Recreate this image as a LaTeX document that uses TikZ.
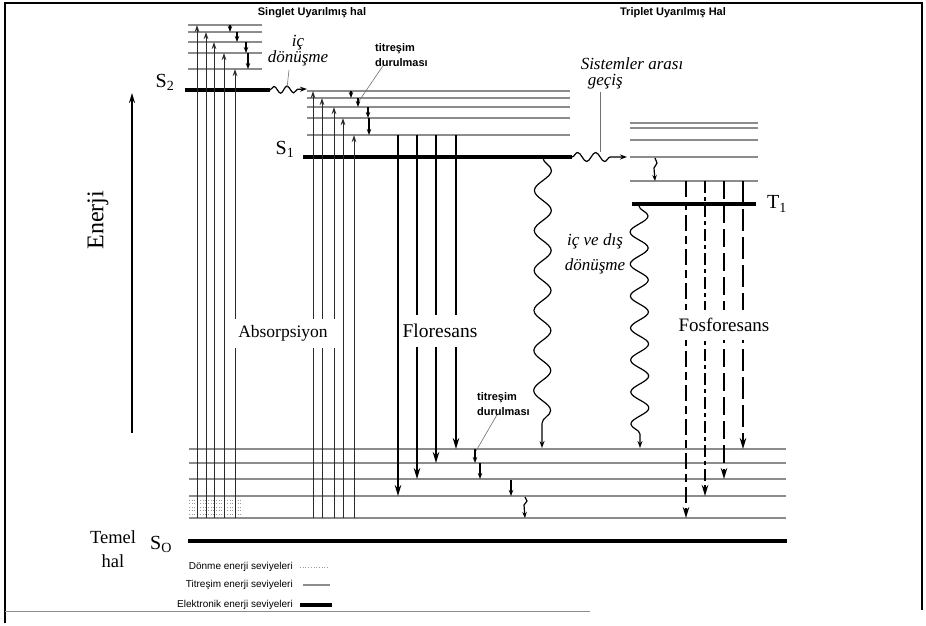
\documentclass[tikz,border=0pt]{standalone}
\usepackage{fontspec}
\setmainfont{Liberation Serif}
\setsansfont{Liberation Sans}
\usetikzlibrary{arrows.meta,decorations.pathmorphing}
\definecolor{LevelGrey}{HTML}{8C8C8C}
\definecolor{LineDark}{HTML}{2A2A2A}
\definecolor{LeadGrey}{HTML}{707070}
\definecolor{DotGrey}{HTML}{9A9A9A}

\begin{document}
\begin{tikzpicture}[x=1pt,y=-1pt,
  elec/.style={line width=3.6pt,draw=black},
  vib/.style={line width=1.1pt,draw=LevelGrey},
  rot/.style={line width=0.7pt,draw=DotGrey,dotted},
  absarr/.style={line width=1pt,draw=LineDark,-{Stealth[length=7pt,width=4.5pt]}},
  fluarr/.style={line width=2.5pt,-{Stealth[length=11pt,width=6.5pt]}},
  phosarr/.style={line width=2.2pt,-{Stealth[length=11pt,width=6.5pt]}},
  relax/.style={line width=1.2pt,-{Stealth[length=6pt,width=4.5pt]}},
  wavy/.style={line width=1.2pt,decorate,decoration={snake,#1},-{Stealth[length=7pt,width=5pt]}},
  lead/.style={line width=0.6pt,draw=LeadGrey},
  proc/.style={fill=white,inner sep=0pt},
  itl/.style={font=\fontsize{17}{16}\selectfont\itshape,align=center},
  small/.style={font=\fontsize{11}{15}\selectfont\sffamily\bfseries,align=left,anchor=west,inner sep=0pt},
  lvl/.style={font=\fontsize{20}{20}\selectfont},
  leg/.style={font=\fontsize{10}{10}\selectfont\sffamily,anchor=east,inner sep=0pt}
]
  \useasboundingbox (0,0) rectangle (926,626);
  % Frame
  \draw[line width=1.8pt] (5,623) -- (5,3) -- (922,3) -- (922,610);
  \draw[line width=0.8pt,draw=LevelGrey] (5,611) -- (590,611);

  % Titles
  \node[font=\fontsize{11}{11}\selectfont\sffamily\bfseries] (sgT) at (312,13) {Singlet Uyarılmış hal};
  \node[font=\fontsize{11}{11}\selectfont\sffamily\bfseries] (trT) at (673,13) {Triplet Uyarılmış Hal};

  % S0 levels
  \foreach \y in {449,463,479,496,518} \draw[vib] (189,\y) -- (786,\y);
  \foreach \y in {500,503.5,507,510.5,514} \draw[rot] (189,\y) -- (243,\y);
  \draw[elec] (188,541) -- (787,541);

  % S2 levels
  \foreach \y in {25,32,42,53,69} \draw[vib] (188,\y) -- (262,\y);
  \draw[elec] (185,90) -- (270,90) coordinate (s2R);

  % S1 levels
  \foreach \y in {91,98,107,118,135} \draw[vib] (307,\y) -- (570,\y);
  \draw[elec] (303,157) -- (572,157) coordinate (s1R);

  % T1 levels
  \foreach \y in {123,128,140,157,181} \draw[vib] (630,\y) -- (758,\y);
  \draw[elec] (632,204) -- (756,204);

  % Absorption
  \foreach \x/\y [count=\i] in {197/25,206/32,214/42,224/53,235/69,313/91,322/98,334/107,343/118,354/135}{
    \coordinate (ab\i) at (\x,518);
    \coordinate (abT\i) at (\x,\y);
    \draw[absarr] (ab\i) -- (abT\i);
  }

  % Fluorescence
  \foreach \x/\y [count=\i] in {398/496,417/479,436/463,456/449}{
    \coordinate (fl\i) at (\x,135);
    \coordinate (flT\i) at (\x,\y);
    \draw[fluarr] (fl\i) -- (flT\i);
  }

  % Phosphorescence
  \foreach \x/\y [count=\i] in {686/518,705/496,724/479,743/449}{
    \coordinate (ph\i) at (\x,181);
    \coordinate (phT\i) at (\x,\y);
  }
  \draw[phosarr,dash pattern=on 16pt off 5pt on 8pt off 5pt] (ph1) -- (phT1);
  \draw[phosarr,dash pattern=on 12pt off 4pt on 4pt off 4pt] (ph2) -- (phT2);
  \draw[phosarr,dash pattern=on 18pt off 6pt] (ph3) -- (phT3);
  \draw[phosarr,dash pattern=on 22pt off 6pt] (ph4) -- (phT4);

  % Vibrational relaxation
  \foreach \x/\a/\b in {230/25/32,237/32/42,246/42/53,248/53/69,
                        351/91/98,358/98/107,368/107/118,369/118/135,
                        475/449/463,480/463/479,511/480/496}{
    \draw[relax] (\x,\a) -- (\x,\b);
  }
  \coordinate (rl1) at (525,497);
  \coordinate (rlT1) at (525,518);
  \draw[relax] (rl1) -- ++(2,4) -- ++(-3,4) -- (rlT1);
  \coordinate (rl2) at (655,158);
  \coordinate (rlT2) at (655,181);
  \draw[relax] (rl2) -- ++(2,5) -- ++(-3,5) -- (rlT2);

  % Non-radiative transitions
  \coordinate (icT) at (307,89);
  \draw[wavy={amplitude=3.5pt,segment length=13pt,post length=7pt}] (s2R) -- (icT);
  \coordinate (iscT) at (627,157);
  \draw[wavy={amplitude=4.5pt,segment length=18pt,post length=8pt}] (s1R) -- (iscT);
  \coordinate (ic1) at (543,158);
  \coordinate (ic1T) at (542,448);
  \draw[wavy={amplitude=8.5pt,segment length=40pt,post length=7pt}] (ic1) -- (ic1T);
  \coordinate (ic2) at (639,206);
  \coordinate (ic2T) at (640,448);
  \draw[wavy={amplitude=9pt,segment length=32pt,post length=7pt}] (ic2) -- (ic2T);

  % Process labels
  \node[proc,minimum width=108pt,minimum height=29pt,font=\fontsize{17.5}{17.5}\selectfont] (absL) at (283,333) {Absorpsiyon};
  \node[proc,minimum width=76pt,minimum height=32pt,font=\fontsize{19.5}{19.5}\selectfont] (fluL) at (440,331) {Floresans};
  \node[proc,minimum width=98pt,minimum height=30pt,font=\fontsize{19}{19}\selectfont] (phoL) at (724,325) {Fosforesans};

  \node[itl] (icL) at (298,51) {iç\\dönüşme};
  \node[itl,align=left] (iscL) at (632,73) {Sistemler arası\\\hspace*{7pt}geçiş};
  \node[itl,font=\fontsize{17}{25}\selectfont\itshape] (icdL) at (595,254) {iç ve dış\\dönüşme};
  \node[small] (tdL1) at (375,55) {titreşim\\durulması};
  \node[small] (tdL2) at (477,404) {titreşim\\durulması};

  % Leaders
  \coordinate (icP) at (287,88);
  \draw[lead] ([xshift=-9pt]icL.south) -- (icP);
  \coordinate (tdP1) at (359,101);
  \draw[lead] ([xshift=8pt,yshift=1pt]tdL1.south west) -- (tdP1);
  \coordinate (tdP2) at (476,451);
  \draw[lead] ([xshift=20pt,yshift=1pt]tdL2.south west) -- (tdP2);
  \coordinate (iscP) at (600,152);
  \draw[lead] ([xshift=-32pt]iscL.south) -- (iscP);

  % Level labels
  \node[lvl] (s2L) at (165,82) {S\textsubscript{2}};
  \node[lvl] (s1L) at (285,149) {S\textsubscript{1}};
  \node[lvl] (t1L) at (777,204) {T\textsubscript{1}};
  \node[lvl] (s0L) at (161,544) {S\textsubscript{O}};
  \node[align=center,font=\fontsize{18.5}{24}\selectfont] (temL) at (113,549) {Temel\\hal};

  % Energy axis
  \coordinate (enB) at (132,433);
  \coordinate (enT) at (132,93);
  \draw[line width=1.8pt,-{Stealth[length=10pt,width=6pt]}] (enB) -- (enT);
  \node[rotate=90,font=\fontsize{24}{24}\selectfont] (enL) at (98,220) {Enerji};

  % Legend
  \node[leg] (lg1) at (293,567) {Dönme enerji seviyeleri};
  \draw[rot] ([xshift=7pt]lg1.east) -- ++(28,0);
  \node[leg] (lg2) at (293,585) {Titreşim enerji seviyeleri};
  \draw[vib] ([xshift=10pt]lg2.east) -- ++(27,0);
  \node[leg] (lg3) at (293,605) {Elektronik enerji seviyeleri};
  \draw[elec] ([xshift=7pt]lg3.east) -- ++(32,0);
\end{tikzpicture}
\end{document}
